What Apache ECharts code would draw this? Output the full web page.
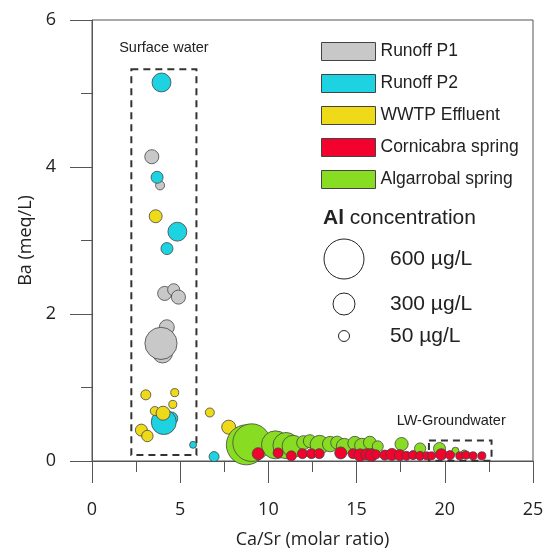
<!DOCTYPE html>
<html>
<head>
<meta charset="utf-8">
<script src="https://cdn.jsdelivr.net/npm/echarts@6/dist/echarts.min.js"></script>
<style>
  html, body { margin: 0; padding: 0; background: #fff; }
  #main { width: 547px; height: 549px; }
</style>
</head>
<body>
<div id="main"></div>
<script>
// [Ca/Sr, Ba, Al]
const runoffP1 = [
  [3.39, 4.14, 120], [3.86, 3.75, 36], [4.12, 2.28, 120], [4.63, 2.33, 75],
  [4.90, 2.23, 120], [4.24, 1.82, 140], [4.00, 1.47, 255], [3.91, 1.60, 470]
];
const runoffP2 = [
  [3.94, 5.15, 230], [3.69, 3.86, 73], [4.84, 3.12, 230], [4.25, 2.89, 73],
  [4.50, 0.58, 90], [4.07, 0.53, 350], [5.73, 0.22, 21], [6.92, 0.06, 43]
];
const wwtp = [
  [3.61, 3.33, 95], [3.05, 0.90, 43], [4.69, 0.93, 29], [4.58, 0.77, 29],
  [3.56, 0.68, 36], [4.03, 0.65, 118], [2.80, 0.42, 73], [3.14, 0.34, 60],
  [6.68, 0.66, 36], [7.75, 0.46, 118]
];
const algarrobal = [
  [8.75, 0.22, 600], [9.05, 0.25, 560], [10.4, 0.22, 400], [11.0, 0.21, 370],
  [11.4, 0.20, 300], [12.0, 0.25, 118], [12.35, 0.27, 95], [12.9, 0.22, 230],
  [13.5, 0.23, 150], [13.9, 0.25, 95], [14.3, 0.20, 160], [14.9, 0.24, 118],
  [15.3, 0.21, 130], [15.75, 0.25, 90], [16.2, 0.20, 50], [17.55, 0.23, 100],
  [18.6, 0.17, 55], [19.7, 0.17, 73], [20.6, 0.14, 21], [21.1, 0.11, 14]
];
const cornicabra = [
  [9.42, 0.10, 73], [10.55, 0.11, 43], [11.3, 0.07, 43], [11.93, 0.10, 43],
  [12.44, 0.10, 43], [12.88, 0.10, 43], [14.1, 0.11, 73], [14.8, 0.10, 43],
  [15.2, 0.08, 85], [15.56, 0.09, 60], [15.85, 0.08, 85], [16.1, 0.09, 36],
  [16.6, 0.08, 43], [17.0, 0.09, 73], [17.45, 0.08, 50], [17.83, 0.07, 36],
  [18.2, 0.08, 36], [18.6, 0.07, 36], [18.97, 0.07, 29], [19.25, 0.07, 29],
  [19.8, 0.09, 60], [20.3, 0.08, 36], [20.85, 0.07, 29], [21.2, 0.08, 29],
  [21.6, 0.07, 29], [22.1, 0.07, 29]
];
const seriesNames = ['Runoff P1', 'Runoff P2', 'WWTP Effluent', 'Cornicabra spring', 'Algarrobal spring'];
const sizeLegend = [600, 300, 50];
const surfaceBox = [[2.23, 5.33], [5.92, 0.08]];
const lwBox = [[19.1, 0.28], [22.65, 0.005]];

// Al (ug/L) -> symbol diameter, piecewise through the size key
function alSize(v) {
  if (v <= 50) return 4 + v * 7 / 50;
  if (v <= 300) return 11 + (v - 50) * 11 / 250;
  return 22 + (v - 300) * 18 / 300;
}

const chart = echarts.init(document.getElementById('main'));

const axisTxt = { fontFamily: 'Open Sans', fontSize: 18, color: '#222' };
const lineCol = '#555';
const boxStyle = { color: 'transparent', borderColor: '#333', borderWidth: 2, borderType: [7, 5] };

function scatter(name, data, color, extra) {
  return Object.assign({
    name: name,
    type: 'scatter',
    data: data,
    symbolSize: (val) => alSize(val[2]),
    itemStyle: { color: color, borderColor: '#444', borderWidth: 0.8, opacity: 1 }
  }, extra || {});
}

const sizeGraphics = [];
sizeLegend.forEach((v, i) => {
  const cy = [259, 304, 336][i];
  sizeGraphics.push({
    type: 'circle', shape: { cx: 344, cy: cy, r: alSize(v) / 2 },
    style: { fill: '#fff', stroke: '#222', lineWidth: 1 }
  });
  sizeGraphics.push({
    type: 'text', x: 390, y: cy,
    style: { text: v + ' µg/L', font: '21px "Liberation Sans"', fill: '#222', verticalAlign: 'middle' }
  });
});
sizeGraphics.push({
  type: 'text', x: 323, y: 218,
  style: {
    text: '{b|Al} concentration', verticalAlign: 'middle',
    font: '21px "Liberation Sans"', fill: '#222',
    rich: { b: { fontWeight: 'bold', fontSize: 21, fontFamily: 'Liberation Sans' } }
  }
});

chart.setOption({
  animation: false,
  grid: {
    left: 92, right: 14, top: 20, bottom: 88, show: true, borderColor: lineCol, borderWidth: 1,
    containLabel: false, outerBoundsMode: 'none'
  },
  xAxis: {
    type: 'value', min: 0, max: 25, interval: 5,
    name: 'Ca/Sr (molar ratio)', nameLocation: 'middle', nameGap: 70,
    nameTextStyle: { fontFamily: 'Open Sans', fontSize: 18, color: '#222' },
    axisLine: { show: true, onZero: false, lineStyle: { color: lineCol } },
    axisTick: { show: true, length: 22, lineStyle: { color: lineCol } },
    minorTick: { show: true, splitNumber: 2, length: 11, lineStyle: { color: lineCol } },
    axisLabel: Object.assign({ margin: 40 }, axisTxt),
    splitLine: { show: false }
  },
  yAxis: {
    type: 'value', min: 0, max: 6, interval: 2,
    name: 'Ba (meq/L)', nameLocation: 'middle', nameGap: 56, nameRotate: 90,
    nameTextStyle: { fontFamily: 'Open Sans', fontSize: 18, color: '#222' },
    axisLine: { show: true, lineStyle: { color: lineCol } },
    axisTick: { show: true, length: 22, lineStyle: { color: lineCol } },
    minorTick: { show: true, splitNumber: 2, length: 11, lineStyle: { color: lineCol } },
    axisLabel: Object.assign({ margin: 36 }, axisTxt),
    splitLine: { show: false }
  },
  legend: {
    data: seriesNames,
    orient: 'vertical', left: 316, top: 37,
    icon: 'rect', itemWidth: 54, itemHeight: 18, itemGap: 13,
    itemStyle: { borderColor: '#444', borderWidth: 1 },
    textStyle: { fontFamily: 'Liberation Sans', fontSize: 17.5, color: '#222', lineHeight: 18 },
    selectedMode: false
  },
  graphic: sizeGraphics,
  series: [
    scatter('Runoff P1', runoffP1, '#c8c8c8', {
      markArea: {
        silent: true, itemStyle: boxStyle,
        label: { show: true, position: 'top', distance: 13, fontFamily: 'Liberation Sans', fontSize: 14.5, color: '#222' },
        data: [[{ name: 'Surface water', coord: surfaceBox[0] }, { coord: surfaceBox[1] }]]
      }
    }),
    scatter('Runoff P2', runoffP2, '#1dd3e2'),
    scatter('WWTP Effluent', wwtp, '#eeda18'),
    scatter('Algarrobal spring', algarrobal, '#88dc22', {
      markArea: {
        silent: true, itemStyle: boxStyle,
        label: { show: true, position: 'top', distance: 11, offset: [-9, 0], fontFamily: 'Liberation Sans', fontSize: 14.5, color: '#222' },
        data: [[{ name: 'LW-Groundwater', coord: lwBox[0] }, { coord: lwBox[1] }]]
      }
    }),
    scatter('Cornicabra spring', cornicabra, '#f2022c')
  ]
});
</script>
</body>
</html>
